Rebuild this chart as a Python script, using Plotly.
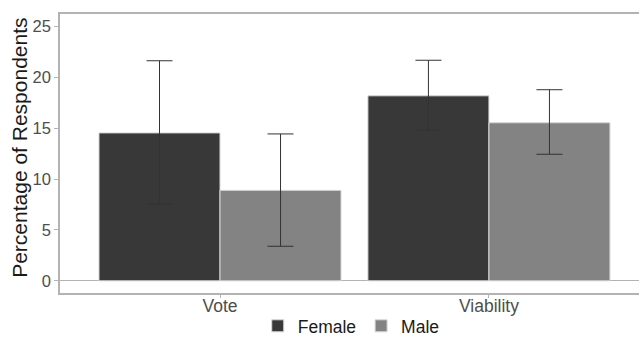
import plotly.graph_objects as go

categories = ["Vote", "Viability"]
female_values = [14.55, 18.2]
female_upper = [21.65, 21.7]
female_lower = [7.55, 14.8]
male_values = [8.9, 15.55]
male_upper = [14.45, 18.8]
male_lower = [3.4, 12.45]
y_title = "Percentage of Respondents"

def err(vals, up, lo):
    return dict(type="data", symmetric=False,
                array=[u - v for u, v in zip(up, vals)],
                arrayminus=[v - l for v, l in zip(vals, lo)],
                color="#333333", thickness=1, width=13)

fig = go.Figure()
fig.add_trace(go.Bar(name="Female", x=categories, y=female_values,
                     marker=dict(color="#383838", line=dict(color="#d8d8d8", width=1)),
                     error_y=err(female_values, female_upper, female_lower)))
fig.add_trace(go.Bar(name="Male", x=categories, y=male_values,
                     marker=dict(color="#838383", line=dict(color="#d8d8d8", width=1)),
                     error_y=err(male_values, male_upper, male_lower)))

fig.update_layout(
    width=639, height=337,
    margin=dict(l=60, r=0, t=14, b=44, autoexpand=False),
    paper_bgcolor="white", plot_bgcolor="white",
    barmode="group", bargap=0.1, bargroupgap=0,
    font=dict(family="Arial, Liberation Sans, sans-serif", color="#4d4d4d"),
    showlegend=True,
    legend=dict(orientation="h", x=0.503, xanchor="center", y=-0.118, yanchor="middle",
                font=dict(size=17.5, color="#1a1a1a"), itemwidth=30,
                traceorder="normal"),
    annotations=[dict(text=y_title, xref="paper", yref="paper",
                      x=-0.07, y=0.522, xanchor="center", yanchor="middle",
                      textangle=-90, showarrow=False,
                      font=dict(size=21, color="#1a1a1a"))],
)
fig.update_xaxes(range=[-0.595, 1.558], showgrid=False, automargin=False,
                 showline=True, mirror=True, linecolor="#b3b3b3", linewidth=1.5,
                 ticks="outside", ticklen=3, tickcolor="#b3b3b3",
                 ticklabelstandoff=-7,
                 tickfont=dict(size=17.5, color="#4d4d4d"))
fig.update_yaxes(range=[-1.2, 26.25], showgrid=False, automargin=False,
                 showline=True, mirror=False, linecolor="#b3b3b3", linewidth=1.5,
                 zeroline=True, zerolinecolor="#b3b3b3", zerolinewidth=1,
                 tickvals=[0, 5, 10, 15, 20, 25],
                 ticks="outside", ticklen=4, tickcolor="#b3b3b3",
                 tickfont=dict(size=16.5, color="#4d4d4d"))

fig.write_html("out.html", config={"displayModeBar": False},
               post_script="document.body.style.margin='0';")
